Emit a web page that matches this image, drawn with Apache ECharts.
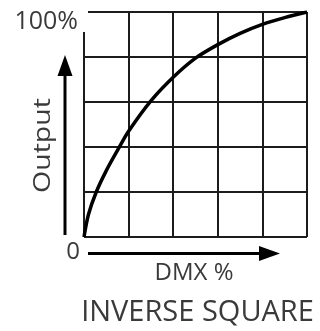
<!DOCTYPE html>
<html>
<head>
<meta charset="utf-8">
<style>
  html, body { margin: 0; padding: 0; background: #fff; }
  #chart { width: 320px; height: 331px; }
</style>
<script src="https://cdn.jsdelivr.net/npm/echarts@6/dist/echarts.min.js"></script>
</head>
<body>
<div id="chart"></div>
<script>
// DMX input (%) and output (%)
var dmxPercent = [0, 2, 5.5, 10, 15, 20, 30, 40, 50, 60, 70, 80, 90, 100];
var outputPercent = [0, 10, 20, 29.5, 38.5, 47, 60.5, 71, 79.5, 85.5, 90.5, 94.5, 97.5, 100];
var tickLabels = ['0', '100%'];
var xAxisName = 'DMX %';
var yAxisName = 'Output';
var chartTitle = 'INVERSE SQUARE';

var seriesData = dmxPercent.map(function (d, i) { return [d, outputPercent[i]]; });

var FONT = '"Open Sans", "Noto Sans", sans-serif';
var TEXT_COLOR = '#3a3a3a';
var LINE_COLOR = '#1c1c1c';

var chart = echarts.init(document.getElementById('chart'), null, { renderer: 'canvas' });

var axisCommon = {
  type: 'value',
  min: 0,
  max: 100,
  interval: 20,
  axisLine: { show: false },
  axisTick: { show: false },
  axisLabel: { show: false },
  splitLine: {
    show: true,
    showMinLine: true,
    showMaxLine: true,
    lineStyle: { color: LINE_COLOR, width: 2, type: 'solid' }
  }
};

chart.setOption({
  animation: false,
  backgroundColor: '#fff',
  grid: { left: 84, right: 13, top: 12, bottom: 94, containLabel: false, outerBoundsMode: 'none' },
  xAxis: axisCommon,
  yAxis: axisCommon,
  series: [{
    type: 'line',
    data: seriesData,
    smooth: 0.3,
    showSymbol: false,
    symbol: 'none',
    lineStyle: { color: '#000', width: 3.5 },
    z: 5
  }]
});

var pMin = chart.convertToPixel({ gridIndex: 0 }, [0, 0]);
var pMax = chart.convertToPixel({ gridIndex: 0 }, [100, 100]);
var gLeft = pMin[0], gBottom = pMin[1], gTop = pMax[1];

var textStyle = function (extra) {
  return Object.assign({ fontFamily: FONT, fill: TEXT_COLOR, fontWeight: 'normal' }, extra);
};

chart.setOption({
  graphic: [
    // open top-left corner of the frame
    { type: 'rect', z: 100, shape: { x: gLeft - 5, y: gTop - 6, width: 9, height: 26 }, style: { fill: '#fff' } },
    // tick labels
    { type: 'text', z: 101, x: gLeft - 6, y: gTop + 10, style: textStyle({ text: tickLabels[1], fontSize: 25, align: 'right', verticalAlign: 'middle' }) },
    { type: 'text', z: 101, x: gLeft - 4, y: gBottom + 15, style: textStyle({ text: tickLabels[0], fontSize: 24, align: 'right', verticalAlign: 'middle' }) },
    // y arrow
    { type: 'line', z: 101, shape: { x1: 65, y1: gBottom - 2, x2: 65, y2: 74 }, style: { stroke: '#000', lineWidth: 3 } },
    { type: 'polygon', z: 101, shape: { points: [[65, 55], [57.5, 76], [72.5, 76]] }, style: { fill: '#000' } },
    // x arrow
    { type: 'line', z: 101, shape: { x1: gLeft + 4, y1: 253.5, x2: 262, y2: 253.5 }, style: { stroke: '#000', lineWidth: 3 } },
    { type: 'polygon', z: 101, shape: { points: [[280, 253.5], [259, 246], [259, 261]] }, style: { fill: '#000' } },
    // axis names
    { type: 'text', z: 101, x: 43, y: 145.5, rotation: Math.PI / 2, scaleX: 1.24,
      style: textStyle({ text: yAxisName, fontSize: 23, align: 'center', verticalAlign: 'middle' }) },
    { type: 'text', z: 101, x: 194, y: 273.5, style: textStyle({ text: xAxisName, fontSize: 24, align: 'center', verticalAlign: 'middle' }) },
    { type: 'text', z: 101, x: 197.5, y: 313, style: textStyle({ text: chartTitle, fontSize: 29, align: 'center', verticalAlign: 'middle' }) }
  ]
});
</script>
</body>
</html>
